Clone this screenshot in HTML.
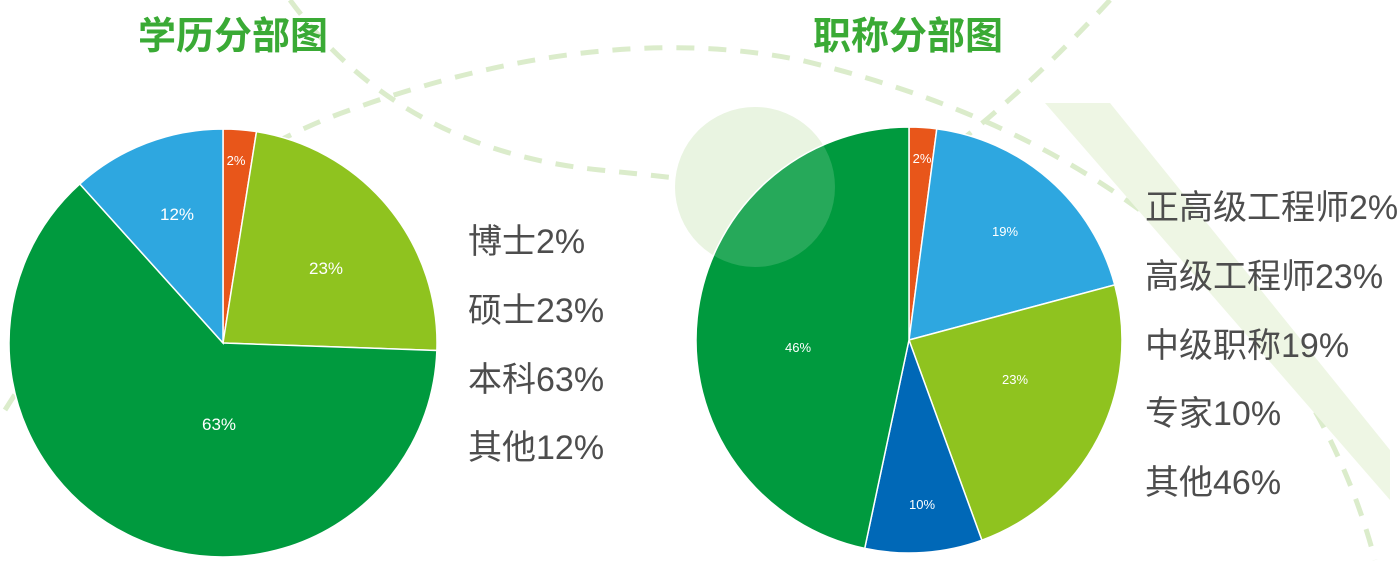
<!DOCTYPE html>
<html><head><meta charset="utf-8"><style>
body{margin:0;background:#fff;}
svg{display:block}
.t{font-family:"Liberation Sans","Noto Sans CJK SC",sans-serif;}
</style></head><body>
<svg id="s" width="1400" height="568" viewBox="0 0 1400 568">
<g fill="none" stroke="#dbeccb" stroke-width="5" stroke-dasharray="18 14">
<path d="M290 0 Q400 150 600 170 T720 190"/>
<path d="M5 410 Q150 180 350 110 Q600 20 800 60 Q1050 120 1200 260 Q1330 390 1375 560"/>
<path d="M1110 0 Q1000 120 880 200"/>
</g>
<polygon points="1045,103 1110,103 1390,450 1390,500" fill="#eef6e4"/>
<circle cx="755" cy="187" r="80" fill="#e6f2dc"/>
<g id="p"></g>
<circle cx="755" cy="187" r="80" fill="#ffffff" fill-opacity="0.15"/>
<g class="t" font-weight="bold" font-size="38" fill="#3aaa35">
<text x="138" y="49">学历分部图</text>
<text x="813" y="49">职称分部图</text>
</g>
<g class="t" font-size="34" fill="#4d4d4d">
<text x="468" y="253">博士2%</text>
<text x="468" y="322">硕士23%</text>
<text x="468" y="391">本科63%</text>
<text x="468" y="459">其他12%</text>
<text x="1145" y="219">正高级工程师2%</text>
<text x="1145" y="288">高级工程师23%</text>
<text x="1145" y="357">中级职称19%</text>
<text x="1145" y="425">专家10%</text>
<text x="1145" y="494">其他46%</text>
</g>
<g class="t" fill="#fff" text-anchor="middle">
<text x="236" y="165" font-size="13">2%</text>
<text x="326" y="274" font-size="17">23%</text>
<text x="177" y="220" font-size="17">12%</text>
<text x="219" y="430" font-size="17">63%</text>
<text x="922" y="163" font-size="13">2%</text>
<text x="1005" y="236" font-size="13">19%</text>
<text x="1015" y="384" font-size="13">23%</text>
<text x="922" y="509" font-size="13">10%</text>
<text x="798" y="352" font-size="13">46%</text>
</g>
</svg>
<script>
function pie(cx,cy,r,sl){var g=document.getElementById('p'),h='';
sl.forEach(function(s){var a0=s[0]*Math.PI/180,a1=s[1]*Math.PI/180;
var x0=cx+r*Math.sin(a0),y0=cy-r*Math.cos(a0),x1=cx+r*Math.sin(a1),y1=cy-r*Math.cos(a1);
h+='<path d="M'+cx+' '+cy+'L'+x0+' '+y0+'A'+r+' '+r+' 0 '+((s[1]-s[0])>180?1:0)+' 1 '+x1+' '+y1+'Z" fill="'+s[2]+'" stroke="#fff" stroke-width="1.5"/>';});
g.innerHTML+=h;}
pie(223,343,214,[[0,9,'#e8561a'],[9,92,'#8fc31f'],[92,318,'#009a3e'],[318,360,'#2ea7e0']]);
pie(909,340,213,[[0,7.5,'#e8561a'],[7.5,75,'#2ea7e0'],[75,160,'#8fc31f'],[160,192,'#0068b7'],[192,360,'#009a3e']]);
</script>
</body></html>
